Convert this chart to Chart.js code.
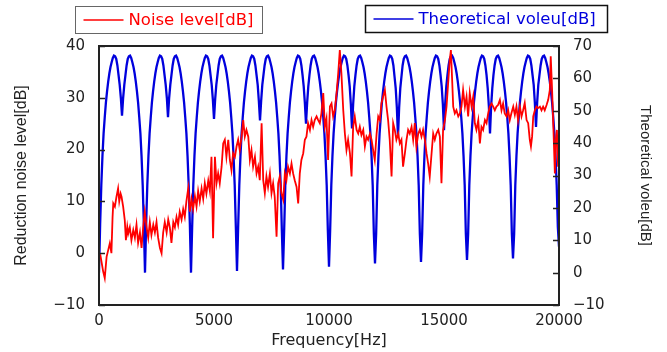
<!DOCTYPE html>
<html>
<head>
<meta charset="utf-8">
<script src="https://cdn.jsdelivr.net/npm/chart.js@4.4.1/dist/chart.umd.min.js"></script>
<style>
  html, body { margin: 0; padding: 0; background: #fff; }
  canvas { display: block; }
</style>
</head>
<body>
<canvas id="noiseChart" width="667" height="352"></canvas>
<script>
const noiseFreq = [
  0, 65, 180, 250, 330, 400, 470, 540, 590, 620,
  690, 760, 830, 880, 940, 980, 1050, 1120, 1170, 1230,
  1270, 1340, 1410, 1490, 1560, 1630, 1700, 1780, 1850, 1920,
  1990, 2070, 2140, 2210, 2280, 2360, 2430, 2500, 2570, 2650,
  2720, 2790, 2860, 2940, 3010, 3080, 3150, 3230, 3300, 3370,
  3440, 3510, 3590, 3660, 3730, 3800, 3880, 3950, 4020, 4090,
  4170, 4240, 4310, 4380, 4460, 4530, 4600, 4670, 4750, 4820,
  4890, 4960, 5040, 5110, 5180, 5250, 5330, 5400, 5470, 5540,
  5620, 5690, 5760, 5830, 5910, 5980, 6050, 6120, 6200, 6270,
  6340, 6410, 6490, 6560, 6630, 6700, 6780, 6850, 6920, 6990,
  7070, 7140, 7210, 7280, 7350, 7430, 7500, 7570, 7640, 7720,
  7790, 7860, 7930, 8010, 8080, 8150, 8220, 8300, 8370, 8440,
  8510, 8590, 8660, 8730, 8800, 8880, 8950, 9020, 9090, 9170,
  9240, 9310, 9380, 9460, 9530, 9600, 9670, 9750, 9820, 9890,
  9960, 10040, 10110, 10180, 10250, 10330, 10400, 10470, 10540, 10620,
  10690, 10760, 10830, 10910, 10980, 11050, 11120, 11200, 11270, 11340,
  11410, 11490, 11560, 11630, 11700, 11780, 11850, 11920, 11990, 12070,
  12140, 12210, 12280, 12350, 12430, 12500, 12570, 12640, 12720, 12790,
  12860, 12930, 13010, 13080, 13150, 13220, 13300, 13370, 13440, 13510,
  13590, 13660, 13730, 13800, 13880, 13950, 14020, 14090, 14170, 14240,
  14310, 14380, 14460, 14530, 14600, 14670, 14750, 14820, 14890, 14960,
  15040, 15110, 15180, 15250, 15300, 15360, 15400, 15470, 15540, 15620,
  15690, 15760, 15830, 15910, 15980, 16050, 16120, 16200, 16270, 16340,
  16410, 16490, 16560, 16630, 16700, 16780, 16850, 16920, 16990, 17070,
  17140, 17210, 17280, 17350, 17430, 17500, 17570, 17640, 17720, 17790,
  17860, 17930, 18010, 18080, 18150, 18220, 18300, 18370, 18440, 18510,
  18590, 18660, 18730, 18780, 18830, 18880, 18950, 19020, 19090, 19170,
  19240, 19310, 19380, 19460, 19530, 19600, 19640, 19700, 19750, 19820,
  19860, 19910, 19960, 20000
];
const noiseLevel = [
  -1, -0.5, -3.5, -4.8, -0.7, 0.6, 1.9, 0, 7, 9.6,
  9, 10.9, 12.5, 10, 11.5, 10.9, 9, 6.4, 2.5, 5.1,
  3.8, 5, 2.5, 4.5, 3, 5.5, 2, 4, 1, 5,
  8, 5, 3, 6, 3.5, 5.5, 4, 6, 3, 1,
  0, 4, 6, 4, 6.5, 5, 2, 6, 5, 7,
  5.5, 8, 6.5, 8.5, 7, 10, 12.5, 8, 10.5, 8.5,
  11, 9, 12, 10, 12.5, 10.5, 13.5, 11.5, 14, 12,
  18.6, 2.9, 18.6, 13.5, 15.4, 13.5, 16.7, 21.2, 21.9, 18.6,
  21.9, 18, 16, 19.3, 18.6, 20.6, 21.9, 19.9, 22.5, 25.7,
  22.5, 23.8, 22.5, 18, 19.9, 16.7, 18.6, 15.4, 16.7, 14.1,
  25.1, 14.1, 11.6, 14.8, 12.8, 15.4, 11.6, 13.5, 10.9, 3.2,
  13.5, 14.8, 11.6, 10.3, 15.4, 14.1, 16.7, 15.4, 17.3, 15.4,
  14.1, 12.8, 9.6, 15.4, 18, 19.3, 21.9, 22.5, 25.1, 23.8,
  25.7, 24.4, 25.7, 26.4, 25.7, 25.1, 27, 30.9, 24.4, 26,
  18, 28.3, 28.9, 26.4, 27.6, 30.9, 34.7, 39.2, 34.7, 27.6,
  23.1, 19.9, 21.9, 19.3, 14.8, 24.4, 26.4, 23.8, 23.1, 24.4,
  22.8, 23.8, 20.6, 22.5, 21.9, 23.1, 21.9, 19.9, 18, 23.1,
  26.4, 25.7, 28.9, 30.2, 31.5, 28.3, 25.7, 21.9, 14.8, 25.1,
  23.8, 21.9, 23.1, 21.2, 21.9, 16.7, 19.3, 21.9, 23.8, 23.1,
  24.4, 21.9, 25.1, 20.6, 23.1, 23.8, 22.5, 23.8, 21.9, 19.3,
  17.3, 14.8, 19.3, 23.1, 21.9, 23.1, 23.8, 22.5, 13.5, 23.8,
  25.7, 28.3, 32.8, 37.3, 39.2, 32.8, 28.3, 27, 27.6, 26.4,
  27, 28.3, 31.5, 28.3, 30.2, 26.4, 30.9, 28.3, 30.2, 25.1,
  23.8, 25.7, 21.2, 24.4, 23.8, 25.7, 25.1, 27, 28.3, 28.9,
  28.3, 27.6, 28.3, 28.6, 29.6, 27.6, 28.9, 27, 26.4, 27.6,
  25.7, 27, 28.3, 26.7, 28.3, 25.7, 28.3, 26.4, 27.6, 29,
  25.7, 25.1, 21.9, 20.6, 22.5, 26.4, 27.6, 28.3, 28, 28.3,
  27.6, 28.3, 27.6, 28.6, 29.6, 31.5, 38, 31.5, 25.1, 15.4,
  21.9, 23.8, 16.7, 22
];

// theoretical value, one reading every 50 Hz, one row per 2000 Hz
const theoryStepHz = 50;
const theoryLevel = [
  0, 15, 27, 36, 43, 48, 52.5, 56, 59, 61.5, 63.5, 65, 66.3, 67, 66.8, 66, 64, 61, 58, 54,
  48.5, 54, 58, 61, 64, 66, 66.8, 67, 66.3, 65, 63.5, 61.5, 59, 56, 52.5, 48, 43, 36, 27, 15,
  0, 15, 27, 36, 43, 48, 52.5, 56, 59, 61.5, 63.5, 65, 66.3, 67, 66.8, 66, 64, 61, 58, 54,
  48, 54, 58, 61, 64, 66, 66.8, 67, 66.3, 65, 63.5, 61.5, 59, 56, 52.5, 48, 43, 36, 27, 15,
  0, 14, 27, 36, 43, 48, 52.5, 56, 59, 61.5, 63.5, 65, 66.3, 67, 66.8, 66, 64, 61, 58, 53.5,
  47.5, 53.5, 58, 61, 64, 66, 66.8, 67, 66.3, 65, 63.5, 61.5, 59, 56, 52.5, 48, 43, 36, 27, 14,
  0.5, 14, 27, 36, 43, 48, 52.5, 56, 59, 61.5, 63.5, 65, 66.3, 67, 66.8, 66, 64, 61, 58, 53,
  47, 53, 58, 61, 64, 66, 66.8, 67, 66.3, 65, 63.5, 61.5, 59, 56, 52.5, 48, 43, 36, 27, 13,
  1, 13, 27, 36, 43, 48, 52.5, 56, 59, 61.5, 63.5, 65, 66.3, 67, 66.8, 66, 64, 61, 57.5, 52.5,
  46, 52.5, 57.5, 61, 64, 66, 66.8, 67, 66.3, 65, 63.5, 61.5, 59, 56, 52.5, 48, 43, 36, 27, 13,
  1.8, 13, 27, 36, 43, 48, 52.5, 56, 59, 61.5, 63.5, 65, 66.3, 67, 66.8, 66, 64, 61, 57.5, 52,
  44.5, 52, 57.5, 61, 64, 66, 66.8, 67, 66.3, 65, 63.5, 61.5, 59, 56, 52.5, 48, 43, 36, 27, 12,
  2.8, 12, 27, 36, 43, 48, 52.5, 56, 59, 61.5, 63.5, 65, 66.3, 67, 66.8, 66, 64, 60.5, 57, 51,
  42, 51, 57, 60.5, 64, 66, 66.8, 67, 66.3, 65, 63.5, 61.5, 59, 56, 52.5, 48, 43, 36, 27, 12,
  3.3, 12, 27, 36, 43, 48, 52.5, 56, 59, 61.5, 63.5, 65, 66.3, 67, 66.8, 66, 64, 61, 57.5, 52,
  44, 52, 57.5, 61, 64, 66, 66.8, 67, 66.3, 65, 63.5, 61.5, 59, 56, 52.5, 48, 43, 36, 27, 12,
  3.9, 12, 27, 36, 43, 48, 52.5, 56, 59, 61.5, 63.5, 65, 66.3, 67, 66.8, 66, 64, 61, 57, 51.5,
  43, 51.5, 57, 61, 64, 66, 66.8, 67, 66.3, 65, 63.5, 61.5, 59, 56, 52.5, 48, 43, 36, 27, 12,
  4.4, 12, 27, 36, 43, 48, 52.5, 56, 59, 61.5, 63.5, 65, 66.3, 67, 66.8, 66, 64, 61, 58, 52.5,
  45, 52.5, 58, 61, 64, 66, 66.8, 67, 66.3, 65, 63.5, 61.5, 59, 56, 52.5, 48, 43, 36, 27, 14,
  8
];

const freqRange = [0, 20000];
const noiseRange = [-10, 40];
const theoryRange = [-10, 70];

const noisePoints = noiseFreq.map((f, i) => ({ x: f, y: noiseLevel[i] }));
const theoryPoints = theoryLevel.map((v, i) => ({ x: i * theoryStepHz, y: v }));

const minus = v => String(v).replace('-', '\u2212');

// frame + inward tick marks like the original plot
const framePlugin = {
  id: 'frame',
  afterDatasetsDraw(chart) {
    const { ctx, chartArea: a } = chart;
    const yl = chart.scales.y, yr = chart.scales.y2;
    ctx.save();
    ctx.strokeStyle = '#222';
    ctx.lineWidth = 1.5;
    ctx.beginPath();
    yl.ticks.forEach(t => {
      const p = Math.round(yl.getPixelForValue(t.value)) + 0.5;
      ctx.moveTo(a.left, p); ctx.lineTo(a.left + 6, p);
    });
    yr.ticks.forEach(t => {
      const p = Math.round(yr.getPixelForValue(t.value)) + 0.5;
      ctx.moveTo(a.right - 6, p); ctx.lineTo(a.right, p);
    });
    ctx.stroke();
    ctx.lineWidth = 2;
    ctx.strokeRect(a.left, a.top, a.right - a.left, a.bottom - a.top);
    ctx.restore();
  }
};

// two separate boxed legends at the top
const boxLegend = {
  id: 'boxLegend',
  afterDraw(chart) {
    const { ctx } = chart;
    const boxes = [
      { ds: 0, x: 75.5, y: 6.5, w: 187, h: 27, border: '#666', bw: 1 },
      { ds: 1, x: 365.5, y: 5.5, w: 242, h: 27, border: '#111', bw: 1.5 }
    ];
    ctx.save();
    boxes.forEach(b => {
      const ds = chart.data.datasets[b.ds];
      const cy = b.y + b.h / 2;
      ctx.fillStyle = '#fff';
      ctx.fillRect(b.x, b.y, b.w, b.h);
      ctx.strokeStyle = b.border;
      ctx.lineWidth = b.bw;
      ctx.strokeRect(b.x, b.y, b.w, b.h);
      ctx.strokeStyle = ds.borderColor;
      ctx.lineWidth = 1.5;
      ctx.beginPath();
      ctx.moveTo(b.x + 8, cy); ctx.lineTo(b.x + 48, cy);
      ctx.stroke();
      ctx.fillStyle = ds.borderColor;
      ctx.font = '16.5px "DejaVu Sans"';
      ctx.textBaseline = 'middle';
      ctx.textAlign = 'left';
      ctx.fillText(ds.label, b.x + 53, cy + 0.5);
    });
    ctx.restore();
  }
};

Chart.defaults.font.family = '"DejaVu Sans", sans-serif';
Chart.defaults.color = '#222';

new Chart(document.getElementById('noiseChart'), {
  type: 'line',
  data: {
    datasets: [
      {
        label: 'Noise level[dB]',
        data: noisePoints,
        borderColor: '#ff0000',
        borderWidth: 1.8,
        pointRadius: 0,
        tension: 0,
        yAxisID: 'y'
      },
      {
        label: 'Theoretical voleu[dB]',
        data: theoryPoints,
        borderColor: '#0000dd',
        borderWidth: 2.3,
        pointRadius: 0,
        tension: 0,
        yAxisID: 'y2'
      }
    ]
  },
  options: {
    responsive: false,
    devicePixelRatio: 1,
    animation: false,
    parsing: false,
    layout: { padding: { top: 46, left: 0, right: 0, bottom: 0 } },
    plugins: {
      legend: { display: false },
      tooltip: { enabled: false }
    },
    scales: {
      x: {
        type: 'linear',
        min: freqRange[0],
        max: freqRange[1],
        grid: { display: false, drawTicks: false },
        border: { display: false },
        ticks: {
          stepSize: 5000,
          padding: 7,
          maxRotation: 0,
          font: { size: 15 },
          callback: v => String(v)
        },
        title: {
          display: true,
          text: 'Frequency[Hz]',
          font: { size: 16 },
          padding: { top: 0, bottom: 1.4 }
        },
        afterFit: s => { s.height = 47; }
      },
      y: {
        position: 'left',
        min: noiseRange[0],
        max: noiseRange[1],
        grid: { display: false, drawTicks: false },
        border: { display: false },
        ticks: { stepSize: 10, padding: 14, font: { size: 15 }, callback: minus },
        title: {
          display: true,
          text: 'Reduction noise level[dB]',
          font: { size: 16, family: '"Liberation Sans", Arial, sans-serif' },
          padding: { top: 12.4, bottom: 0 }
        },
        afterFit: s => { s.width = 99; }
      },
      y2: {
        position: 'right',
        min: theoryRange[0],
        max: theoryRange[1],
        grid: { display: false, drawTicks: false },
        border: { display: false },
        ticks: { stepSize: 10, padding: 14, font: { size: 15 }, callback: minus },
        title: {
          display: true,
          text: 'Theoretical voleu[dB]',
          font: { size: 15, family: '"Liberation Sans", Arial, sans-serif' },
          padding: { top: 13, bottom: 0 }
        },
        afterFit: s => { s.width = 108; }
      }
    }
  },
  plugins: [framePlugin, boxLegend]
});
</script>
</body>
</html>
